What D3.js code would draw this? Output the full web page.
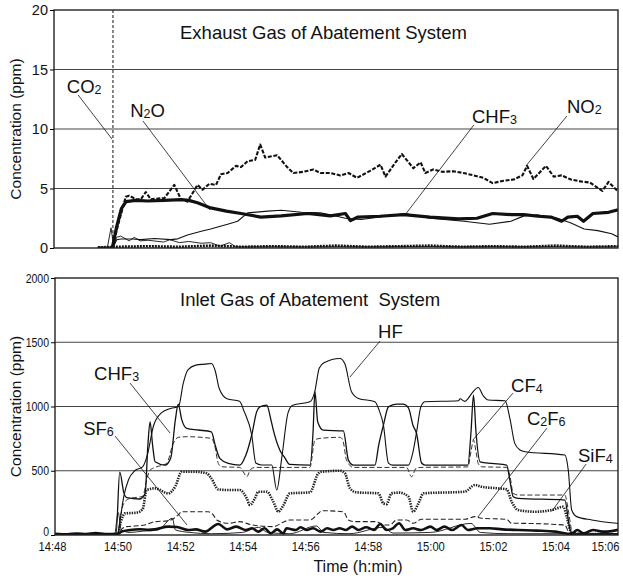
<!DOCTYPE html>
<html>
<head>
<meta charset="utf-8">
<script src="https://cdn.jsdelivr.net/npm/d3@7"></script>
<style>
  body { margin: 0; background: #fff; }
  svg text { font-family: "Liberation Sans", Arial, sans-serif; fill: #111; }
</style>
</head>
<body>
<div id="chart"></div>
<script>
// time in minutes after 14:48, values in ppm
var timeTicks = [0, 2, 4, 6, 8, 10, 12, 14, 16, 18];
var timeLabels = ["14:48", "14:50", "14:52", "14:54", "14:56", "14:58", "15:00", "15:02", "15:04", "15:06"];
var topTicks = [0, 5, 10, 15, 20];
var bottomTicks = [0, 500, 1000, 1500, 2000];

// ---- exhaust gas (top) ----
var co2 = [[1.4, 0], [1.88, 0], [1.885, 40]];
var n2o = [[1.4, 0], [1.86, 0], [2.0, 1.8], [2.15, 3.3], [2.3, 3.9], [2.6, 4.0], [3.0, 3.95], [3.5, 4.0], [4.06, 4.07], [4.3, 4.0],
  [4.58, 3.8], [5.0, 3.37], [5.5, 3.1], [5.97, 2.9], [6.6, 2.6], [7.25, 2.7], [8.1, 2.9], [8.82, 2.7], [9.3, 2.9], [9.46, 2.3],
  [9.7, 2.6], [10.4, 2.67], [11.16, 2.8], [12.0, 2.6], [12.9, 2.45], [13.5, 2.5], [14.0, 2.9], [14.6, 2.8], [15.0, 2.8],
  [15.45, 2.67], [15.86, 2.6], [16.2, 2.25], [16.4, 2.6], [16.7, 2.67], [16.9, 2.25], [17.2, 2.9], [17.7, 3.0], [18, 3.2]];
var no2 = [[1.4, 0], [1.86, 0], [2.05, 2.0], [2.29, 4.3], [2.4, 4.4], [2.61, 4.1], [2.77, 4.1], [2.93, 4.7], [3.09, 4.1], [3.52, 4.2],
  [3.84, 5.3], [4.05, 4.1], [4.26, 3.9], [4.58, 5.3], [4.74, 4.9], [4.96, 5.4], [5.17, 5.3], [5.33, 6.2], [5.54, 6.3], [5.81, 6.9],
  [5.97, 6.8], [6.18, 7.3], [6.42, 7.4], [6.58, 8.7], [6.74, 7.6], [7.12, 7.8], [7.44, 6.8], [7.64, 6.3], [7.96, 6.4], [8.28, 6.6],
  [8.5, 6.3], [8.82, 6.3], [9.14, 6.1], [9.4, 6.3], [9.67, 5.9], [10.1, 6.5], [10.42, 7.0], [10.58, 6.0], [10.9, 7.2], [11.1, 7.9],
  [11.47, 6.7], [11.7, 7.2], [11.85, 6.3], [12.1, 6.6], [12.4, 6.4], [12.75, 6.45], [13.07, 6.3], [13.4, 6.1], [13.7, 5.9], [14.0, 5.45],
  [14.35, 5.65], [14.67, 5.75], [14.95, 6.1], [15.1, 6.9], [15.3, 5.8], [15.7, 6.9], [15.95, 6.0], [16.2, 6.1], [16.5, 5.75],
  [16.8, 5.6], [17.1, 5.5], [17.5, 4.8], [17.7, 5.55], [18, 4.75]];
var chf3Out = [[1.4, 0], [1.88, 0], [2.0, 0.7], [2.13, 0.76], [2.5, 0.76], [2.77, 0.7], [3.2, 0.8], [3.73, 0.7], [3.95, 0.77], [4.26, 1.1],
  [4.7, 1.4], [5.0, 1.6], [5.54, 2.0], [5.86, 2.25], [6.18, 2.95], [6.82, 3.1], [7.25, 3.17], [7.9, 3.0], [8.5, 2.95], [8.82, 2.8],
  [9.3, 2.5], [9.8, 2.4], [10.4, 2.6], [11.2, 2.9], [12.0, 2.5], [13.08, 2.25], [13.9, 2.0], [14.58, 2.25], [15.0, 2.7], [15.43, 2.8],
  [16.07, 2.5], [16.5, 2.1], [16.92, 1.6], [17.35, 1.46], [17.8, 1.2], [18, 0.93]];
var spikeOut = [[1.4, 0], [1.7, 0], [1.82, 1.7], [1.9, 0.2], [2.0, 0.9], [2.13, 1.0], [2.4, 0.6], [2.56, 0.9], [2.75, 0.6], [3.0, 0.65],
  [3.5, 0.5], [3.7, 0.7], [4.0, 0.45], [4.3, 0.55], [4.7, 0.4], [5.0, 0.45], [5.3, 0.15], [5.6, 0.45], [5.8, 0.1], [8, 0.1], [12, 0.12], [18, 0.1]];
var baseOut = [[1.4, 0.05], [2.0, 0.1], [3, 0.15], [4, 0.1], [5, 0.2], [6, 0.1], [7, 0.15], [8, 0.1], [9, 0.2], [10, 0.1],
  [11, 0.15], [12, 0.2], [13, 0.1], [14, 0.15], [15, 0.1], [16, 0.2], [17, 0.1], [18, 0.15]];

// ---- inlet gas (bottom) ----
var hf = [[0, 0], [2.0, 0], [2.1, 150], [2.2, 300], [2.35, 430], [2.55, 500], [2.8, 530], [2.95, 620], [3.15, 850], [3.4, 950],
  [3.7, 985], [3.95, 1000], [4.1, 1180], [4.25, 1285], [4.5, 1322], [4.8, 1330], [5.0, 1335], [5.12, 1280], [5.25, 1140], [5.5, 1060],
  [5.9, 1040], [6.05, 960], [6.29, 778], [6.42, 560], [6.6, 545], [6.93, 545], [7.09, 350], [7.25, 600], [7.45, 950], [7.6, 1010],
  [8.15, 1037], [8.3, 1110], [8.45, 1300], [8.6, 1340], [9.11, 1374], [9.27, 1330], [9.48, 1115], [9.7, 1063], [10.23, 1037],
  [10.35, 980], [10.5, 855], [10.66, 560], [10.8, 544], [11.3, 544], [11.45, 650], [11.56, 800], [11.7, 1000], [11.83, 1037],
  [12.9, 1045], [12.95, 1060], [13.1, 1040], [13.2, 1060], [13.35, 1110], [13.53, 1148], [13.7, 1080], [13.85, 1050], [14.39, 1045],
  [14.55, 900], [14.7, 713], [14.87, 661], [15.03, 648], [16.3, 622], [16.41, 505], [16.52, 194], [16.68, 143], [17.16, 117],
  [17.96, 91], [18, 90]];
var chf3In = [[0, 0], [1.95, 0], [2.07, 490], [2.2, 330], [2.3, 290], [2.7, 280], [2.88, 320], [2.97, 700], [3.04, 881], [3.12, 700],
  [3.2, 570], [3.52, 544], [3.7, 600], [3.85, 900], [3.94, 1019], [4.05, 900], [4.21, 830], [4.58, 817], [5.0, 803], [5.12, 700],
  [5.27, 596], [5.54, 557], [5.91, 544], [6.1, 620], [6.29, 778], [6.45, 960], [6.55, 997], [6.77, 1010], [6.9, 900], [6.98, 816],
  [7.19, 660], [7.35, 600], [7.5, 550], [8.15, 544], [8.25, 800], [8.31, 1115], [8.4, 880], [8.58, 816], [9.22, 810], [9.38, 583],
  [9.54, 544], [10.23, 544], [10.35, 700], [10.5, 855], [10.66, 997], [10.92, 1019], [11.13, 1019], [11.3, 990], [11.45, 850],
  [11.56, 790], [11.72, 560], [11.83, 544], [13.2, 544], [13.3, 800], [13.38, 1089], [13.46, 800], [13.59, 570], [13.96, 557],
  [14.44, 544], [14.55, 415], [14.65, 298], [14.81, 285], [16.3, 272], [16.47, 39], [16.6, 5], [18, 10]];
var cf4 = [[0, 0], [2.0, 0], [2.1, 150], [2.2, 246], [2.4, 285], [2.8, 300], [2.95, 450], [3.04, 505], [3.2, 526], [3.57, 557],
  [3.78, 713], [3.94, 760], [4.21, 765], [5.0, 752], [5.12, 680], [5.22, 557], [5.33, 531], [5.91, 526], [6.02, 492], [6.13, 453],
  [6.25, 510], [6.4, 526], [8.15, 526], [8.31, 739], [8.47, 752], [9.11, 760], [9.2, 740], [9.32, 583], [9.54, 526], [11.24, 526],
  [11.4, 453], [11.55, 520], [11.7, 526], [13.2, 530], [13.3, 650], [13.38, 739], [13.46, 650], [13.53, 557], [13.64, 531],
  [14.44, 526], [14.55, 453], [14.65, 324], [14.81, 311], [16.3, 311], [16.41, 194], [16.52, 39], [16.62, 8], [18, 8]];
var c2f6 = [[0, 0], [2.0, 0], [2.15, 50], [2.29, 65], [2.56, 70], [2.9, 80], [3.2, 104], [3.6, 110], [3.94, 156], [4.05, 181],
  [4.9, 181], [5.05, 160], [5.17, 117], [5.54, 91], [5.91, 104], [6.3, 78], [6.98, 65], [7.3, 100], [7.51, 117], [8.15, 117],
  [8.42, 168], [8.53, 189], [9.22, 181], [9.38, 117], [9.59, 104], [10.28, 104], [10.5, 78], [10.71, 78], [10.92, 117], [11.24, 117],
  [11.45, 91], [11.72, 122], [13.1, 122], [13.43, 143], [13.64, 130], [14.44, 122], [14.6, 91], [14.7, 91], [16.3, 78], [16.45, 13], [18, 5]];
var sif4 = [[0, 0], [2.0, 0], [2.1, 100], [2.24, 168], [2.61, 174], [2.8, 200], [2.93, 350], [3.2, 363], [3.62, 324], [3.85, 380],
  [4.05, 492], [4.48, 492], [4.85, 480], [5.0, 440], [5.22, 355], [5.54, 350], [5.91, 350], [6.13, 285], [6.23, 233], [6.39, 285],
  [6.5, 337], [6.77, 337], [6.98, 259], [7.14, 181], [7.3, 230], [7.51, 324], [8.15, 332], [8.42, 480], [8.53, 492], [9.11, 500],
  [9.27, 480], [9.43, 363], [9.64, 332], [10.34, 324], [10.5, 246], [10.6, 240], [10.76, 324], [11.0, 330], [11.3, 298], [11.45, 181],
  [11.62, 246], [11.78, 324], [13.1, 337], [13.43, 389], [13.64, 375], [14.17, 363], [14.44, 355], [14.6, 259], [14.81, 194],
  [15.35, 181], [15.88, 194], [16.25, 220], [16.36, 143], [16.52, 13], [18, 5]];
var sf6 = [[0, 10], [0.4, 5], [0.7, 12], [1.0, 8], [1.3, 15], [1.6, 8], [2.0, 10], [2.13, 26], [2.4, 39], [2.7, 45], [3.0, 40],
  [3.2, 44], [3.62, 65], [3.9, 62], [4.26, 39], [4.5, 44], [4.8, 26], [5.22, 86], [5.5, 44], [5.8, 65], [6.1, 39], [6.3, 52], [6.5, 26],
  [6.7, 52], [6.9, 13], [7.1, 44], [7.3, 13], [7.4, 52], [7.7, 39], [7.85, 60], [8.05, 39], [8.25, 52], [8.5, 26], [8.7, 52], [8.9, 39],
  [9.1, 52], [9.3, 39], [9.5, 65], [9.7, 39], [9.95, 60], [10.2, 39], [10.4, 86], [10.6, 39], [10.8, 52], [11.0, 91], [11.2, 39],
  [11.45, 52], [11.7, 39], [12.0, 65], [12.2, 39], [12.45, 65], [12.7, 39], [13.0, 78], [13.2, 39], [13.5, 52], [13.9, 52], [14.3, 44],
  [14.8, 39], [15.4, 34], [16.0, 26], [16.5, 8], [16.7, 39], [16.9, 13], [17.2, 39], [17.5, 26], [17.8, 30], [18, 40]];
var minorIn = [[0, 0], [1.9, 0], [2.02, 174], [2.12, 40], [2.4, 20], [2.8, 30], [3.3, 40], [3.75, 130], [3.85, 40], [4.3, 20],
  [5.0, 10], [6.0, 20], [6.5, 60], [6.8, 20], [7.5, 10], [8.35, 70], [8.6, 20], [9.4, 10], [10.5, 60], [10.8, 15], [12.0, 20],
  [13.3, 90], [13.6, 20], [14.5, 10], [16.3, 10], [18, 10]];

// labels: text parts (1 = subscript), label anchor and leader line, in data units
var topNotes = [
  { parts: [["CO", 0], ["2", 1]], at: [0.41, 13.0], from: [0.77, 12.86], to: [1.85, 9.16] },
  { parts: [["N", 0], ["2", 1], ["O", 0]], at: [2.43, 11.0], from: [2.84, 10.67], to: [4.98, 3.19] },
  { parts: [["CHF", 0], ["3", 1]], at: [13.34, 10.5], from: [13.4, 10.34], to: [11.2, 2.77] },
  { parts: [["NO", 0], ["2", 1]], at: [16.37, 11.34], from: [16.37, 11.09], to: [15.06, 6.89] }
];
var bottomNotes = [
  { parts: [["CHF", 0], ["3", 1]], at: [1.25, 1205], from: [2.4, 1182], to: [3.68, 793] },
  { parts: [["SF", 0], ["6", 1]], at: [0.9, 778], from: [1.92, 770], to: [4.22, 78] },
  { parts: [["HF", 0]], at: [10.33, 1532], from: [10.39, 1509], to: [9.43, 1229] },
  { parts: [["CF", 0], ["4", 1]], at: [14.58, 1112], from: [14.64, 1104], to: [13.36, 739] },
  { parts: [["C", 0], ["2", 1], ["F", 0], ["6", 1]], at: [15.09, 855], from: [15.73, 832], to: [13.52, 140] },
  { parts: [["SiF", 0], ["4", 1]], at: [16.72, 568], from: [16.98, 552], to: [15.89, 187] }
];

var w = 623, h = 578;
var svg = d3.select("#chart").append("svg").attr("width", w).attr("height", h);

// squeeze tick labels a little, the original uses a condensed face
function narrow(sel, k) {
    sel.each(function() {
        var len = this.getComputedTextLength();
        d3.select(this).attr("textLength", len * k).attr("lengthAdjust", "spacingAndGlyphs");
    });
}

function panel(opts) {
    var x = d3.scaleLinear().domain([0, 18]).range([opts.left, opts.right]);
    var y = d3.scaleLinear().domain([0, opts.max]).range([opts.bottom, opts.top]);
    var g = svg.append("g");

    g.append("clipPath").attr("id", opts.id)
        .append("rect")
        .attr("x", opts.left).attr("y", opts.top)
        .attr("width", opts.right - opts.left).attr("height", opts.bottom - opts.top);

    // grid
    g.selectAll(".grid")
        .data(opts.ticks.slice(1, -1))
        .enter()
        .append("line")
        .attr("x1", opts.left).attr("x2", opts.right)
        .attr("y1", function(d) { return y(d); })
        .attr("y2", function(d) { return y(d); })
        .attr("stroke", "#444")
        .attr("stroke-width", 1.1);

    var lines = g.append("g").attr("clip-path", "url(#" + opts.id + ")");
    opts.series.forEach(function(s) {
        var line = d3.line()
            .x(function(d) { return x(d[0]); })
            .y(function(d) { return y(d[1]); })
            .curve(s.curve || d3.curveLinear);
        lines.append("path")
            .datum(s.data)
            .attr("d", line)
            .attr("fill", "none")
            .attr("stroke", s.color || "#111")
            .attr("stroke-width", s.width)
            .attr("stroke-dasharray", s.dash || null)
            .attr("stroke-linejoin", "round");
    });

    // frame
    g.append("rect")
        .attr("x", opts.left).attr("y", opts.top)
        .attr("width", opts.right - opts.left).attr("height", opts.bottom - opts.top)
        .attr("fill", "none").attr("stroke", "#222").attr("stroke-width", 1.4);

    var yAxis = d3.axisLeft(y).tickValues(opts.ticks).tickSize(4).tickPadding(2).tickFormat(d3.format("d"));
    var ya = g.append("g").attr("transform", "translate(" + opts.left + ",0)").call(yAxis);
    ya.select(".domain").remove();
    ya.selectAll("text").style("font-size", opts.tickSize + "px").attr("fill", "#111");
    ya.selectAll("text").filter(function(d) { return d === 0; }).attr("dy", opts.zeroDy);
    if (opts.squeeze) narrow(ya.selectAll("text"), opts.squeeze);

    g.append("text")
        .attr("transform", "translate(21," + ((opts.top + opts.bottom) / 2) + ") rotate(-90)")
        .attr("text-anchor", "middle")
        .style("font-size", "15.5px")
        .text("Concentration (ppm)");

    g.append("text")
        .attr("x", opts.titleX).attr("y", opts.titleY)
        .style("font-size", "18.5px")
        .attr("xml:space", "preserve")
        .text(opts.title);

    opts.notes.forEach(function(n) {
        g.append("line")
            .attr("x1", x(n.from[0])).attr("y1", y(n.from[1]))
            .attr("x2", x(n.to[0])).attr("y2", y(n.to[1]))
            .attr("stroke", "#111").attr("stroke-width", 0.8);
        var t = g.append("text")
            .attr("x", x(n.at[0])).attr("y", y(n.at[1]))
            .style("font-size", "18.5px");
        var shift = 0;
        n.parts.forEach(function(p) {
            var dy = p[1] ? 1 - shift : -shift;
            shift = p[1] ? 1 : 0;
            t.append("tspan")
                .style("font-size", p[1] ? "12.5px" : "18.5px")
                .attr("dy", dy)
                .text(p[0]);
        });
    });

    return { x: x, y: y, g: g };
}

panel({
    id: "clipTop", left: 54, right: 618, top: 10, bottom: 248, max: 20,
    ticks: topTicks, tickSize: 14.5, zeroDy: "0.32em",
    title: "Exhaust Gas of Abatement System", titleX: 180, titleY: 39,
    notes: topNotes,
    series: [
        { data: co2, width: 1, dash: "3,2" },
        { data: baseOut, width: 2.6, dash: "2,1" },
        { data: spikeOut, width: 0.9 },
        { data: chf3Out, width: 1.1 },
        { data: no2, width: 2.1, dash: "4,1.6" },
        { data: n2o, width: 3.2 }
    ]
});

var bottom = panel({
    id: "clipBottom", left: 55, right: 618, top: 278, bottom: 535, max: 2000,
    ticks: bottomTicks, tickSize: 12.5, zeroDy: "0.05em", squeeze: 0.84,
    title: "Inlet Gas of Abatement  System", titleX: 180, titleY: 306,
    notes: bottomNotes,
    series: [
        { data: minorIn, width: 0.9, curve: d3.curveMonotoneX },
        { data: c2f6, width: 1.1, dash: "5,2.5", color: "#222", curve: d3.curveMonotoneX },
        { data: sif4, width: 2.6, dash: "1.4,1.1", color: "#222", curve: d3.curveMonotoneX },
        { data: cf4, width: 1, dash: "5,2.5", color: "#333", curve: d3.curveMonotoneX },
        { data: chf3In, width: 1.3, curve: d3.curveMonotoneX },
        { data: hf, width: 1.1, curve: d3.curveMonotoneX },
        { data: sf6, width: 2.6, curve: d3.curveMonotoneX }
    ]
});

// time axis under the lower panel
var xAxis = d3.axisBottom(bottom.x)
    .tickValues(timeTicks)
    .tickSize(0)
    .tickPadding(7)
    .tickFormat(function(d, i) { return timeLabels[i]; });
var xa = svg.append("g").attr("transform", "translate(0,535)").call(xAxis);
xa.select(".domain").remove();
xa.selectAll("text").style("font-size", "13px").attr("fill", "#111");
narrow(xa.selectAll("text"), 0.86);
xa.selectAll("text").filter(function(d) { return d === 18; }).attr("x", -13);
xa.selectAll("text").filter(function(d) { return d === 0; }).attr("x", -3);

svg.append("text")
    .attr("x", 358).attr("y", 572)
    .attr("text-anchor", "middle")
    .style("font-size", "16px")
    .text("Time (h:min)");
</script>
</body>
</html>
